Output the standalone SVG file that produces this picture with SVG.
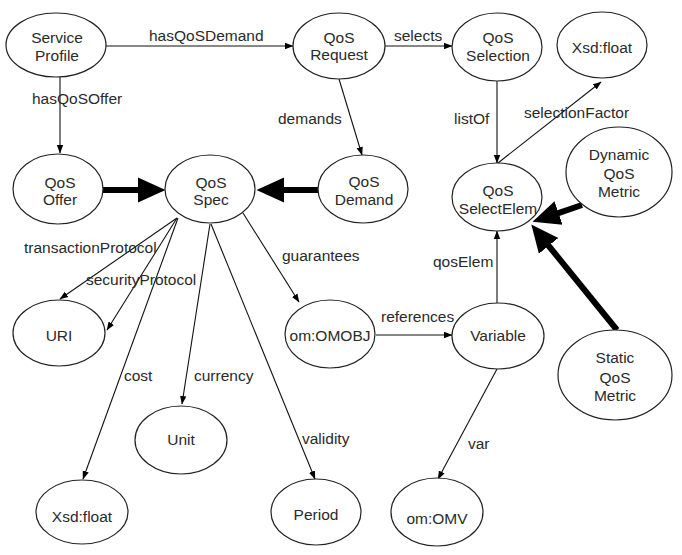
<svg xmlns="http://www.w3.org/2000/svg" width="682" height="555" viewBox="0 0 682 555">
<style>
.n{fill:#fff;stroke:#222;stroke-width:1.2}
text{font-family:"Liberation Sans",Arial,sans-serif;font-size:15.5px;fill:#2a2a2a}
.c text{text-anchor:middle}
.e{fill:none;stroke:#111;stroke-width:1.1}
.t{fill:none;stroke:#000;stroke-width:6}
</style>
<defs>
<marker id="a" markerUnits="userSpaceOnUse" markerWidth="9" markerHeight="8" viewBox="0 -4 9 8" refX="8" refY="0" orient="auto"><path d="M0,-3.2 L8.5,0 L0,3.2 z" fill="#000"/></marker>
<marker id="b" markerUnits="userSpaceOnUse" markerWidth="29" markerHeight="27" viewBox="0 -13.5 29 27" refX="1" refY="0" orient="auto"><path d="M0,-12.5 L27.5,0 L0,12.5 z" fill="#000"/></marker>
</defs>
<rect width="682" height="555" fill="#fff"/>
<g id="connectors">
<line class="e" x1="106" y1="46" x2="293" y2="46" marker-end="url(#a)"/>
<line class="e" x1="60" y1="77" x2="60" y2="153" marker-end="url(#a)"/>
<line class="e" x1="339" y1="79" x2="362" y2="155" marker-end="url(#a)"/>
<line class="e" x1="384" y1="46" x2="452" y2="46" marker-end="url(#a)"/>
<line class="e" x1="497" y1="81" x2="497" y2="163" marker-end="url(#a)"/>
<line class="e" x1="498" y1="163" x2="601" y2="82" marker-end="url(#a)"/>
<line class="t" x1="103" y1="190" x2="139" y2="190" marker-end="url(#b)"/>
<line class="t" x1="318" y1="190" x2="283" y2="190" marker-end="url(#b)"/>
<line class="e" x1="177" y1="218" x2="60" y2="299" marker-end="url(#a)"/>
<line class="e" x1="177" y1="218" x2="107" y2="330" marker-end="url(#a)"/>
<line class="e" x1="178" y1="218" x2="83" y2="479" marker-end="url(#a)"/>
<line class="e" x1="210" y1="224" x2="182" y2="404" marker-end="url(#a)"/>
<line class="e" x1="211" y1="224" x2="315" y2="479" marker-end="url(#a)"/>
<line class="e" x1="243" y1="213" x2="299" y2="302" marker-end="url(#a)"/>
<line class="e" x1="376" y1="335" x2="452" y2="335" marker-end="url(#a)"/>
<line class="e" x1="497" y1="303" x2="497" y2="231" marker-end="url(#a)"/>
<line class="e" x1="497" y1="369" x2="438" y2="479" marker-end="url(#a)"/>
<line class="t" x1="582" y1="205" x2="557.6" y2="213.3" marker-end="url(#b)"/>
<line class="t" x1="617" y1="330" x2="548" y2="245" marker-end="url(#b)"/>
<text x="149" y="40.5">hasQoSDemand</text>
<text x="32" y="103.5">hasQoSOffer</text>
<text x="278" y="123.5">demands</text>
<text x="394" y="40.5">selects</text>
<text x="454" y="123.5">listOf</text>
<text x="524" y="117.5">selectionFactor</text>
<text x="24" y="252.5">transactionProtocol</text>
<text x="86" y="285">securityProtocol</text>
<text x="282" y="261">guarantees</text>
<text x="381" y="322">references</text>
<text x="433" y="267">qosElem</text>
<text x="124" y="380.5">cost</text>
<text x="194" y="380.5">currency</text>
<text x="302" y="443.5">validity</text>
<text x="468" y="448.5">var</text>
</g>
<g id="sp" class="c"><ellipse class="n" cx="56" cy="45" rx="50" ry="32"/><text x="57" y="43">Service</text><text x="57" y="60.5">Profile</text></g>
<g id="req" class="c"><ellipse class="n" cx="339" cy="46" rx="46" ry="33"/><text x="339" y="42.5">QoS</text><text x="339" y="60">Request</text></g>
<g id="sel" class="c"><ellipse class="n" cx="497" cy="47" rx="45" ry="34"/><text x="498" y="42.5">QoS</text><text x="498" y="61">Selection</text></g>
<g id="xf1" class="c"><ellipse class="n" cx="602" cy="45" rx="45" ry="33"/><text x="602" y="52.5">Xsd:float</text></g>
<g id="offer" class="c"><ellipse class="n" cx="58" cy="189" rx="45" ry="35"/><text x="60" y="187.5">QoS</text><text x="60" y="205">Offer</text></g>
<g id="spec" class="c"><ellipse class="n" cx="210" cy="189" rx="45" ry="34"/><text x="211" y="187.5">QoS</text><text x="211" y="204.5">Spec</text></g>
<g id="demand" class="c"><ellipse class="n" cx="363" cy="189" rx="45" ry="34"/><text x="364" y="186.5">QoS</text><text x="364" y="205">Demand</text></g>
<g id="selem" class="c"><ellipse class="n" cx="497" cy="197" rx="45" ry="34"/><text x="498" y="195.5">QoS</text><text x="498" y="214">SelectElem</text></g>
<g id="dyn" class="c"><ellipse class="n" cx="619" cy="172" rx="53" ry="45"/><text x="619" y="159.5">Dynamic</text><text x="619" y="178.5">QoS</text><text x="619" y="196.5">Metric</text></g>
<g id="uri" class="c"><ellipse class="n" cx="59" cy="333" rx="46" ry="33"/><text x="59" y="340.5">URI</text></g>
<g id="omobj" class="c"><ellipse class="n" cx="330" cy="334" rx="45" ry="34"/><text x="330" y="340.5">om:OMOBJ</text></g>
<g id="var" class="c"><ellipse class="n" cx="498" cy="336" rx="46" ry="33"/><text x="498" y="340.5">Variable</text></g>
<g id="stat" class="c"><ellipse class="n" cx="615" cy="375" rx="57" ry="45"/><text x="615" y="362.5">Static</text><text x="615" y="382.5">QoS</text><text x="615" y="400.5">Metric</text></g>
<g id="unit" class="c"><ellipse class="n" cx="181" cy="440" rx="46" ry="34"/><text x="181" y="444.5">Unit</text></g>
<g id="xf2" class="c"><ellipse class="n" cx="82" cy="512" rx="46" ry="32"/><text x="82" y="521.5">Xsd:float</text></g>
<g id="period" class="c"><ellipse class="n" cx="316" cy="512" rx="45" ry="33"/><text x="316" y="519.5">Period</text></g>
<g id="omv" class="c"><ellipse class="n" cx="437" cy="512" rx="46" ry="34"/><text x="437" y="523.5">om:OMV</text></g>
</svg>
